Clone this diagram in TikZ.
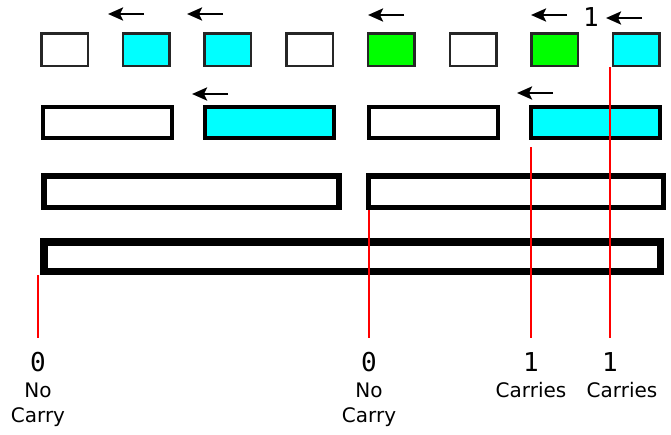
\documentclass[tikz,border=0pt]{standalone}
\usepackage{fontspec}
\usepackage{tikz}
\usetikzlibrary{positioning,arrows.meta}
\newfontfamily\wordfont{DejaVu Sans}
\newfontfamily\bitfont{DejaVu Sans Mono}
\definecolor{cellcyan}{RGB}{0,255,255}
\definecolor{cellgreen}{RGB}{0,255,0}

\tikzset{
  cell/.style={draw=black!85, line width=2.5pt, minimum width=46.5pt, minimum height=32.5pt, inner sep=0pt},
  pair/.style={draw, line width=4pt, minimum width=129pt, minimum height=31pt, inner sep=0pt},
  quad/.style={draw, line width=5.5pt, minimum width=295pt, minimum height=31.5pt, inner sep=0pt},
  whole/.style={draw, line width=7.5pt, minimum width=616.5pt, minimum height=29.5pt, inner sep=0pt},
  shiftarrow/.style={-{Stealth[length=15pt,width=13pt,inset=3pt]}, line width=2.6pt},
  carry/.style={red, line width=1.6pt, shorten >=14pt},
  bit/.style={font=\bitfont\fontsize{26}{30}\selectfont, inner sep=0pt},
  note/.style={font=\wordfont\fontsize{20}{25}\selectfont, align=center, inner sep=0pt},
}

\begin{document}
\begin{tikzpicture}[x=1pt, y=-1pt]
    \useasboundingbox (0,0) rectangle (671,434);

    % single bits
    \foreach \x/\c [count=\i] in {64.5/white, 146.2/cellcyan, 227.9/cellcyan, 309.6/white,
                                  391.3/cellgreen, 473/white, 554.7/cellgreen, 636.4/cellcyan}
        \node[cell, fill=\c] (bit\i) at (\x,49.5) {};

    % pairs
    \node[pair] (pairA) at (107.5,122.5) {};
    \node[pair, fill=cellcyan] (pairB) at (269.5,122.5) {};
    \node[pair] (pairC) at (433,122.5) {};
    \node[pair, fill=cellcyan] (pairD) at (595.5,122.5) {};

    % quads and the whole word
    \node[quad] (quadA) at (191.5,191.5) {};
    \node[quad] (quadB) at (516,191.5) {};
    \node[whole] (word) at (352,256.5) {};

    % shifts
    \foreach \x/\y in {144/14, 223/14, 404/15, 567/15, 642/18, 228/94, 553/93}
        \draw[shiftarrow] (\x,\y) -- ++(-36,0);
    \node[bit] (cin) at (591,17) {1};

    % carry out of each block
    \node[bit, anchor=north] (d1) at (38,352) {0};
    \node[note, below=11pt of d1] (n1) {No\\Carry};
    \node[bit, anchor=north] (d2) at (369,352) {0};
    \node[note, below=11pt of d2] (n2) {No\\Carry};
    \node[bit, anchor=north] (d3) at (531,352) {1};
    \node[note, below=11pt of d3] (n3) {Carries};
    \node[bit, anchor=north] (d4) at (610,352) {1};
    \node[note, below=11pt of d4, xshift=12pt] (n4) {Carries};

    \draw[carry] (d1.north |- word.south) -- (d1.north);
    \draw[carry] (d2.north |- quadB.south) -- (d2.north);
    \draw[carry, shorten <=7pt] (d3.north |- pairD.south) -- (d3.north);
    \draw[carry] (d4.north |- bit8.south) -- (d4.north);
\end{tikzpicture}
\end{document}
